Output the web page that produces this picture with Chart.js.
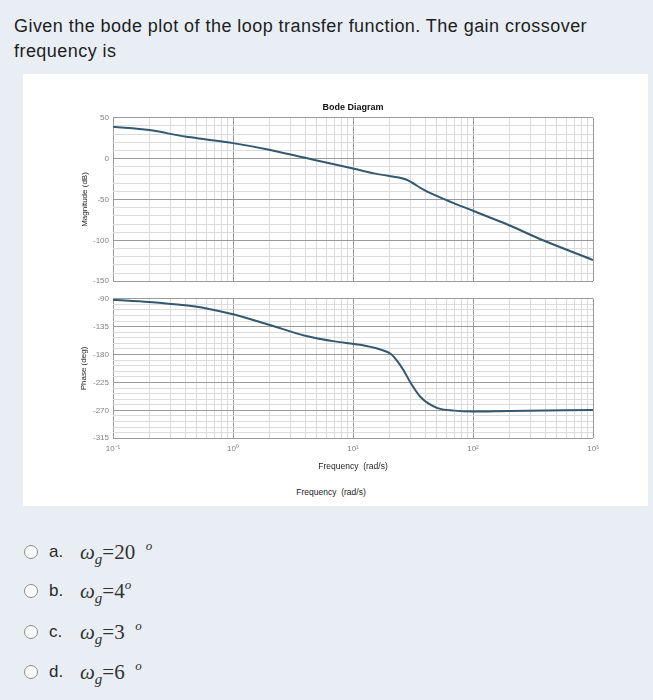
<!DOCTYPE html>
<html>
<head>
<meta charset="utf-8">
<script src="https://cdn.jsdelivr.net/npm/chart.js"></script>
<style>
  body { margin:0; width:653px; height:700px; background:#e8eef4; position:relative; overflow:hidden;
         font-family:"Liberation Sans", Arial, sans-serif; }
  .q { position:absolute; left:14px; top:14px; width:575px; font-size:18px; letter-spacing:0.45px; line-height:25px; color:#1d1d1f; }
  .panel { position:absolute; left:23px; top:74px; width:625px; height:432px; background:#fff; }
  canvas { position:absolute; }
  .xlab2 { position:absolute; left:231px; width:200px; top:487px; text-align:center; font-size:8.5px; color:#222; }
  .opt { position:absolute; left:0; height:24px; line-height:24px; width:300px; }
  .radio { position:absolute; left:24px; top:5px; width:14px; height:14px; box-sizing:border-box;
           border:1.5px solid #8d8d8d; border-radius:50%; background:#f8fafc; }
  .letter { position:absolute; left:49px; font-size:17px; color:#2a2a2a; }
  .math { position:absolute; left:80px; font-family:"Liberation Serif", "DejaVu Serif", serif; font-size:21px; color:#333; white-space:pre; }
  .math sub { font-size:15px; vertical-align:-5px; line-height:0; }
  .math sup { font-size:13px; vertical-align:9px; line-height:0; }
</style>
</head>
<body>
<div class="q">Given the bode plot of the loop transfer function. The gain crossover frequency is</div>
<div class="panel"></div>
<canvas id="magChart" width="586" height="195" style="left:60px; top:95px;"></canvas>
<canvas id="phaseChart" width="586" height="184" style="left:60px; top:290px;"></canvas>
<div class="xlab2">Frequency&nbsp;&nbsp;(rad/s)</div>

<div class="opt" style="top:540px"><span class="radio"></span><span class="letter">a.</span><span class="math"><i>ω</i><sub><i>g</i></sub>=20  <sup><i>o</i></sup></span></div>
<div class="opt" style="top:579px"><span class="radio"></span><span class="letter">b.</span><span class="math"><i>ω</i><sub><i>g</i></sub>=4<sup><i>o</i></sup></span></div>
<div class="opt" style="top:620px"><span class="radio"></span><span class="letter">c.</span><span class="math"><i>ω</i><sub><i>g</i></sub>=3  <sup><i>o</i></sup></span></div>
<div class="opt" style="top:660px"><span class="radio"></span><span class="letter">d.</span><span class="math"><i>ω</i><sub><i>g</i></sub>=6  <sup><i>o</i></sup></span></div>

<script>
// data
const magFreq = [0.1, 0.2, 0.4, 0.6, 1, 2, 4, 6.5, 10, 15, 20.5, 28, 39, 60, 100, 140, 200, 370, 1000];
const magDb   = [39, 35, 27, 23.5, 19, 11, 1, -6, -12, -18, -21.5, -25.8, -38.3, -50.8, -63.8, -72.4, -81.5, -99, -124];

const phaseFreq = [0.1, 0.2, 0.4, 0.6, 1, 2, 4, 7, 11.5, 16.9, 20.7, 23.5, 26.3, 30.3, 36.7, 50, 70, 100, 200, 1000];
const phaseDeg  = [-91.5, -95, -100.6, -105.5, -115, -132, -149.6, -158.7, -164.3, -171.9, -179, -191, -205, -226, -249, -266, -270.5, -272, -271, -269.6];

const decadeValues = [0.1, 1, 10, 100, 1000];
const decadeLabels = ['10⁻¹', '10⁰', '10¹', '10²', '10³'];

const magTicks = { min: -150, max: 50, step: 10, major: 50 };
const phaseTicks = { min: -315, max: -90, step: 9, major: 45 };

const lineColor = '#34586f';
const majorGrid = '#9a9a9a';
const minorGrid = '#dcdcdc';
const tickColor = '#808080';
const fam = '"Liberation Sans", Arial, sans-serif';

function setLogTicks(scale) {
  let ticks = [];
  for (let d = -1; d <= 2; d++) {
    for (let m = 1; m <= 9; m++) ticks.push({ value: m * Math.pow(10, d) });
  }
  ticks.push({ value: 1000 });
  scale.ticks = ticks;
}

function isDecade(v) {
  let l = Math.log10(v);
  return Math.abs(l - Math.round(l)) < 1e-6;
}

function decadeLabel(v) {
  let i = decadeValues.findIndex(d => Math.abs(d - v) / d < 1e-6);
  return i >= 0 ? decadeLabels[i] : '';
}

function xScale(showLabels) {
  return {
    type: 'logarithmic', min: 0.1, max: 1000,
    afterBuildTicks: setLogTicks,
    ticks: { display: showLabels, autoSkip: false, maxRotation: 0, padding: 6,
             color: tickColor, font: { family: fam, size: 8 }, callback: v => decadeLabel(v) },
    grid: { drawTicks: false, color: ctx => isDecade(ctx.tick.value) ? majorGrid : minorGrid },
    border: { display: false },
    title: { display: showLabels, text: 'Frequency  (rad/s)', color: '#222',
             font: { family: fam, size: 8.5 }, padding: { top: 2, bottom: 2 } }
  };
}

function yScale(t, label, titlePad) {
  return {
    min: t.min, max: t.max,
    afterFit: s => { s.width = 53; },
    ticks: { stepSize: t.step, autoSkip: false, padding: 4, color: tickColor,
             font: { family: fam, size: 8 }, callback: v => (v % t.major === 0 ? v : '') },
    grid: { drawTicks: false, color: ctx => (ctx.tick.value % t.major === 0 ? majorGrid : minorGrid) },
    border: { display: false },
    title: { display: true, text: label, color: '#222', font: { family: fam, size: 8 },
             padding: { top: titlePad, bottom: 0 } }
  };
}

function curve(xs, ys) {
  return {
    data: xs.map((f, i) => ({ x: f, y: ys[i] })),
    borderColor: lineColor, borderWidth: 2, pointRadius: 0, fill: false,
    cubicInterpolationMode: 'monotone'
  };
}

/* Magnitude ---------------------------------------------------------- */
new Chart(document.getElementById('magChart'), {
  type: 'line',
  data: { datasets: [curve(magFreq, magDb)] },
  options: {
    responsive: false, animation: false,
    layout: { padding: { left: 0, right: 53, top: 0, bottom: 2 } },
    plugins: {
      legend: { display: false }, tooltip: { enabled: false },
      title: { display: true, text: 'Bode Diagram', fullSize: false, color: '#111',
               font: { family: fam, size: 9, weight: 'bold' }, padding: { top: 7, bottom: 5 } }
    },
    scales: { x: xScale(false), y: yScale(magTicks, 'Magnitude (dB)', 20) }
  }
});

/* Phase -------------------------------------------------------------- */
new Chart(document.getElementById('phaseChart'), {
  type: 'line',
  data: { datasets: [curve(phaseFreq, phaseDeg)] },
  options: {
    responsive: false, animation: false,
    layout: { padding: { left: 0, right: 53, top: 6, bottom: 0 } },
    plugins: { legend: { display: false }, tooltip: { enabled: false } },
    scales: { x: xScale(true), y: yScale(phaseTicks, 'Phase (deg)', 19) }
  }
});
</script>
</body>
</html>
